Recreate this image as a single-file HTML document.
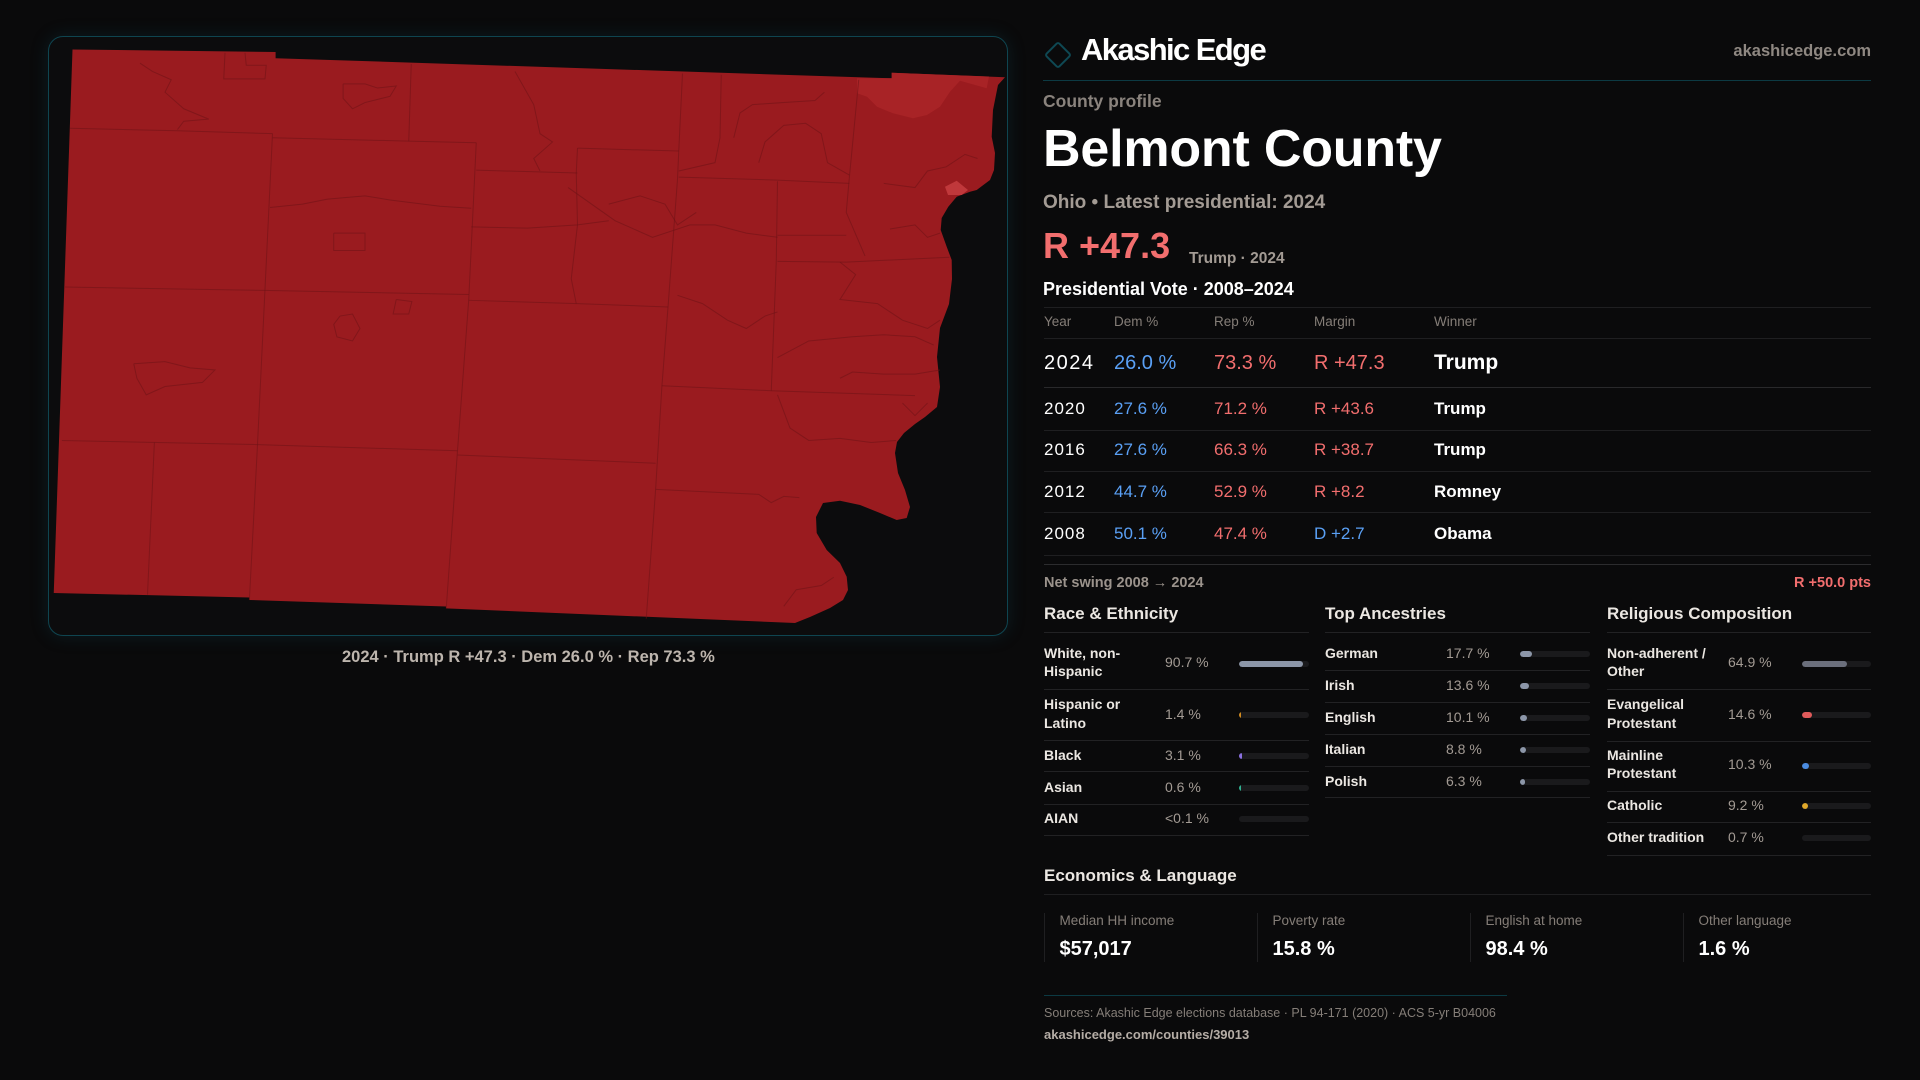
<!DOCTYPE html>
<html><head><meta charset="utf-8">
<style>
*{margin:0;padding:0;box-sizing:border-box}
html,body{width:1920px;height:1080px;background:#0a0a0b;overflow:hidden}
body{position:relative;font-family:"Liberation Sans",Arial,sans-serif;color:#fff}
.t{position:absolute;white-space:nowrap;line-height:1}
.b{font-weight:700}
.hl{position:absolute;height:1px;background:#1f1f21}
.lab{position:absolute;white-space:nowrap;font-size:14px;line-height:18.3px;font-weight:700;color:#ebe7e2}
.val{position:absolute;white-space:nowrap;font-size:14px;line-height:18.3px;color:#a39b94}
.trk{position:absolute;height:6px;width:70px;border-radius:3px;background:#1a1a1c;overflow:hidden}
.trk i{position:absolute;left:0;top:0;bottom:0;border-radius:3px;display:block}
.sep{position:absolute;height:1px;background:#222224}
.blue{color:#5aa0f5}.red{color:#f26e6e}
.card{position:absolute;top:913px;height:49px;border-left:1px solid #1f1f21}
</style></head><body>

<!-- map panel -->
<div style="position:absolute;left:48px;top:36px;width:960px;height:600px;border:1px solid #0f4550;border-radius:15px;background:#0c0c0d;box-shadow:0 0 18px rgba(20,90,110,0.22)"></div>
<svg style="position:absolute;left:0;top:0" width="1920" height="1080" viewBox="0 0 1920 1080">
<path fill="#9a1b1f" d="M72.5,49.5 L275.6,52 L275.6,58.2 L891.7,78.3 L891.7,72.7 L1005,77.3 L998,85 L993,110 L991.7,136.7 L995,153 L994,170 L990,180 L976.7,190 L970,191.7 L956.7,196.7 L948.3,206.7 L941.7,218 L940.7,230 L946.7,246.7 L951.7,260 L952,279 L949,304 L940,328 L937,357 L940,387 L937,407 L925,417 L915,424 L904,433 L897,442 L895,453 L898,473 L905,490 L910,507 L906.7,518 L896.7,520 L880,513 L860,505 L840,500.7 L823,503 L816,517 L816.7,533 L826.7,550 L840,563 L846.7,576.7 L848,590 L843,600 L830,608 L810,617 L795,623 L446,608.4 L446,606.5 L249.4,600 L249.4,597.5 L53.75,593 Z"/>
<path fill="#a82326" d="M857,78.3 L891.7,78.3 L891.7,72.7 L989,76.5 L986.7,88.3 L960,80.7 L950,91.7 L940,106.7 L927,115 L913,118.3 L893,113.3 L877,106.7 L867,96.7 L857,93.3 Z"/>
<path fill="#c0383b" d="M945,186.7 L956.7,180.7 L968,190 L961.7,195 L948,195 Z"/>
<g transform="translate(40,30) scale(0.625,0.41459)" fill="none" stroke="#6e1215" stroke-opacity="0.55" stroke-width="1">
<polyline vector-effect="non-scaling-stroke" points="372,250 360,625 348,1000 335,1375"/>
<polyline vector-effect="non-scaling-stroke" points="698,272 686,650 668,1015 650,1395"/>
<polyline vector-effect="non-scaling-stroke" points="1028,105 1022,292 1020,360 1005,665 995,860 985,1108 970,1420"/>
<polyline vector-effect="non-scaling-stroke" points="183,995 172,1362"/>
<polyline vector-effect="non-scaling-stroke" points="594,82 590,268"/>
<polyline vector-effect="non-scaling-stroke" points="1090,108 1088,260 1080,320 1022,340"/>
<polyline vector-effect="non-scaling-stroke" points="1180,365 1178,560 1170,870"/>
<polyline vector-effect="non-scaling-stroke" points="1310,120 1295,355 1290,440 1310,510 1320,545"/>
<polyline vector-effect="non-scaling-stroke" points="860,285 858,345 860,470 850,600 858,660"/>
<polyline vector-effect="non-scaling-stroke" points="296,55 294,118 360,118 362,85 330,85 328,55"/>
<polyline vector-effect="non-scaling-stroke" points="48,237 220,243 372,250"/>
<polyline vector-effect="non-scaling-stroke" points="372,260 590,268 698,272"/>
<polyline vector-effect="non-scaling-stroke" points="698,338 860,345"/>
<polyline vector-effect="non-scaling-stroke" points="860,285 1022,292"/>
<polyline vector-effect="non-scaling-stroke" points="1022,355 1180,362 1295,370"/>
<polyline vector-effect="non-scaling-stroke" points="40,620 358,628 686,638"/>
<polyline vector-effect="non-scaling-stroke" points="686,652 860,660 1005,668"/>
<polyline vector-effect="non-scaling-stroke" points="35,990 348,1000 668,1015"/>
<polyline vector-effect="non-scaling-stroke" points="668,1025 985,1045"/>
<polyline vector-effect="non-scaling-stroke" points="985,1108 1150,1120 1170,1140 1190,1125 1215,1128"/>
<polyline vector-effect="non-scaling-stroke" points="995,858 1170,870 1400,882"/>
<polyline vector-effect="non-scaling-stroke" points="690,475 780,478 860,470 910,460"/>
<polyline vector-effect="non-scaling-stroke" points="1180,495 1290,495"/>
<polyline vector-effect="non-scaling-stroke" points="1180,558 1290,560 1455,548"/>
<polyline vector-effect="non-scaling-stroke" points="368,428 420,420 460,408 520,400 560,410 640,425 690,430"/>
<polyline vector-effect="non-scaling-stroke" points="1020,640 1060,660 1100,700 1130,720 1160,690 1180,680"/>
<polyline vector-effect="non-scaling-stroke" points="1280,560 1305,590 1280,650 1340,660 1380,700 1420,720 1440,700"/>
<polyline vector-effect="non-scaling-stroke" points="1180,790 1230,750 1300,740 1350,735 1400,740 1430,760"/>
<polyline vector-effect="non-scaling-stroke" points="1280,840 1300,825 1350,830 1400,830 1440,820"/>
<polyline vector-effect="non-scaling-stroke" points="1180,880 1200,960 1230,990 1280,985 1330,995 1370,990"/>
<polyline vector-effect="non-scaling-stroke" points="845,380 920,460 980,500 1040,470 1080,470 1130,490 1180,500"/>
<polyline vector-effect="non-scaling-stroke" points="1150,320 1160,270 1190,230 1225,225 1250,250 1260,320 1295,350"/>
<polyline vector-effect="non-scaling-stroke" points="1110,260 1120,200 1140,180 1190,175 1240,170 1255,150"/>
<polyline vector-effect="non-scaling-stroke" points="1350,370 1400,380 1420,340 1450,330 1480,300 1500,310"/>
<polyline vector-effect="non-scaling-stroke" points="1360,480 1400,470 1420,500 1440,490"/>
<polyline vector-effect="non-scaling-stroke" points="1380,900 1400,930 1420,900"/>
<polyline vector-effect="non-scaling-stroke" points="1190,1390 1210,1350 1250,1340 1270,1320"/>
<polyline vector-effect="non-scaling-stroke" points="470,490 520,490 520,532 470,532 470,490"/>
<polyline vector-effect="non-scaling-stroke" points="480,690 500,685 512,720 500,750 475,740 470,710 480,690"/>
<polyline vector-effect="non-scaling-stroke" points="570,650 595,655 590,685 565,685 570,650"/>
<polyline vector-effect="non-scaling-stroke" points="150,805 200,800 240,815 280,820 260,850 200,860 170,880 155,840 150,805"/>
<polyline vector-effect="non-scaling-stroke" points="160,80 180,100 210,120 200,150 230,190 270,215 230,220 220,240"/>
<polyline vector-effect="non-scaling-stroke" points="485,130 520,130 540,140 570,135 560,160 520,175 500,190 485,165 485,130"/>
<polyline vector-effect="non-scaling-stroke" points="760,100 790,180 800,250 820,270 790,310 800,340"/>
<polyline vector-effect="non-scaling-stroke" points="910,420 960,400 1000,420 1020,470 1050,440"/>
</g>
</svg>
<div class="t b" style="left:342px;top:649px;font-size:16.5px;color:#bdb5ad">2024 · Trump R +47.3 · Dem 26.0 % · Rep 73.3 %</div>

<!-- header -->
<div style="position:absolute;left:1048px;top:45px;width:20px;height:20px;border:2px solid #0e4853;border-radius:3px;transform:rotate(45deg)"></div>
<div class="t b" style="left:1081px;top:34.4px;font-size:31px;letter-spacing:-1.6px;color:#fff">Akashic Edge</div>
<div class="t b" style="right:49px;top:42.7px;font-size:16.5px;color:#8f8882">akashicedge.com</div>
<div class="hl" style="left:1043px;top:80px;width:828px;background:#0c3a43"></div>

<div class="t b" style="left:1043px;top:93px;font-size:17.5px;color:#8a837d">County profile</div>
<div class="t b" style="left:1043px;top:123.3px;font-size:52px;letter-spacing:-0.2px;color:#fff">Belmont County</div>
<div class="t b" style="left:1043px;top:193px;font-size:19px;color:#a39b94">Ohio • Latest presidential: 2024</div>
<div class="t b red" style="left:1043px;top:228.4px;font-size:36px">R +47.3</div>
<div class="t b" style="left:1189px;top:250.5px;font-size:15.5px;color:#a39b94">Trump · 2024</div>
<div class="t b" style="left:1043px;top:279.5px;font-size:18px;color:#fff">Presidential Vote · 2008–2024</div>

<!-- table -->
<div class="hl" style="left:1044px;top:307px;width:827px"></div>
<div class="t" style="left:1044px;top:315.2px;font-size:13.5px;color:#857e78">Year</div>
<div class="t" style="left:1114px;top:315.2px;font-size:13.5px;color:#857e78">Dem %</div>
<div class="t" style="left:1214px;top:315.2px;font-size:13.5px;color:#857e78">Rep %</div>
<div class="t" style="left:1314px;top:315.2px;font-size:13.5px;color:#857e78">Margin</div>
<div class="t" style="left:1434px;top:315.2px;font-size:13.5px;color:#857e78">Winner</div>
<div class="hl" style="left:1044px;top:338px;width:827px"></div>

<div class="t" style="left:1044px;top:352.5px;font-size:20px;letter-spacing:1.5px;color:#fff">2024</div>
<div class="t blue" style="left:1114px;top:352.5px;font-size:20px">26.0 %</div>
<div class="t red" style="left:1214px;top:352.5px;font-size:20px">73.3 %</div>
<div class="t red" style="left:1314px;top:352.5px;font-size:20px">R +47.3</div>
<div class="t b" style="left:1434px;top:351.5px;font-size:21px;color:#fff">Trump</div>
<div class="hl" style="left:1044px;top:387px;width:827px;background:#29292b"></div>

<div class="t" style="left:1044px;top:399.9px;font-size:17px;letter-spacing:1px;color:#fff">2020</div>
<div class="t blue" style="left:1114px;top:399.9px;font-size:17px">27.6 %</div>
<div class="t red" style="left:1214px;top:399.9px;font-size:17px">71.2 %</div>
<div class="t red" style="left:1314px;top:399.9px;font-size:17px">R +43.6</div>
<div class="t b" style="left:1434px;top:399.9px;font-size:17px;color:#fff">Trump</div>
<div class="hl" style="left:1044px;top:430px;width:827px"></div>

<div class="t" style="left:1044px;top:441.3px;font-size:17px;letter-spacing:1px;color:#fff">2016</div>
<div class="t blue" style="left:1114px;top:441.3px;font-size:17px">27.6 %</div>
<div class="t red" style="left:1214px;top:441.3px;font-size:17px">66.3 %</div>
<div class="t red" style="left:1314px;top:441.3px;font-size:17px">R +38.7</div>
<div class="t b" style="left:1434px;top:441.3px;font-size:17px;color:#fff">Trump</div>
<div class="hl" style="left:1044px;top:471px;width:827px"></div>

<div class="t" style="left:1044px;top:482.9px;font-size:17px;letter-spacing:1px;color:#fff">2012</div>
<div class="t blue" style="left:1114px;top:482.9px;font-size:17px">44.7 %</div>
<div class="t red" style="left:1214px;top:482.9px;font-size:17px">52.9 %</div>
<div class="t red" style="left:1314px;top:482.9px;font-size:17px">R +8.2</div>
<div class="t b" style="left:1434px;top:482.9px;font-size:17px;color:#fff">Romney</div>
<div class="hl" style="left:1044px;top:512px;width:827px"></div>

<div class="t" style="left:1044px;top:524.6px;font-size:17px;letter-spacing:1px;color:#fff">2008</div>
<div class="t blue" style="left:1114px;top:524.6px;font-size:17px">50.1 %</div>
<div class="t red" style="left:1214px;top:524.6px;font-size:17px">47.4 %</div>
<div class="t blue" style="left:1314px;top:524.6px;font-size:17px">D +2.7</div>
<div class="t b" style="left:1434px;top:524.6px;font-size:17px;color:#fff">Obama</div>
<div class="hl" style="left:1044px;top:555px;width:827px"></div>
<div class="hl" style="left:1044px;top:564px;width:827px;background:#2c2c2e"></div>

<div class="t b" style="left:1044px;top:576.4px;font-size:14.5px;color:#9b938c">Net swing 2008 → 2024</div>
<div class="t b red" style="right:49px;top:576.4px;font-size:14.5px">R +50.0 pts</div>

<!-- section titles -->
<div class="t b" style="left:1044px;top:604.9px;font-size:17px;color:#ebe7e2">Race &amp; Ethnicity</div>
<div class="t b" style="left:1325px;top:604.9px;font-size:17px;color:#ebe7e2">Top Ancestries</div>
<div class="t b" style="left:1607px;top:604.9px;font-size:17px;color:#ebe7e2">Religious Composition</div>
<div class="sep" style="left:1044px;top:632px;width:265px"></div>
<div class="sep" style="left:1325px;top:632px;width:265px"></div>
<div class="sep" style="left:1607px;top:632px;width:264px"></div>

<!-- race -->
<div class="lab" style="left:1044px;top:643.7px">White, non-<br>Hispanic</div>
<div class="val" style="left:1165px;top:652.5px">90.7 %</div>
<div class="trk" style="left:1239px;top:660.7px"><i style="width:63.5px;background:#8c96a8"></i></div>
<div class="sep" style="left:1044px;top:689px;width:265px"></div>

<div class="lab" style="left:1044px;top:695.3px">Hispanic or<br>Latino</div>
<div class="val" style="left:1165px;top:704.8px">1.4 %</div>
<div class="trk" style="left:1239px;top:712px"><i style="width:1.5px;background:#d08a20;border-radius:0"></i></div>
<div class="sep" style="left:1044px;top:740px;width:265px"></div>

<div class="lab" style="left:1044px;top:746px">Black</div>
<div class="val" style="left:1165px;top:746px">3.1 %</div>
<div class="trk" style="left:1239px;top:753px"><i style="width:3px;background:#8a70e0;border-radius:1px"></i></div>
<div class="sep" style="left:1044px;top:771px;width:265px"></div>

<div class="lab" style="left:1044px;top:778.3px">Asian</div>
<div class="val" style="left:1165px;top:778.3px">0.6 %</div>
<div class="trk" style="left:1239px;top:784.7px"><i style="width:1.5px;background:#30b090;border-radius:0"></i></div>
<div class="sep" style="left:1044px;top:804px;width:265px"></div>

<div class="lab" style="left:1044px;top:809.3px">AIAN</div>
<div class="val" style="left:1165px;top:809.3px">&lt;0.1 %</div>
<div class="trk" style="left:1239px;top:816px"></div>
<div class="sep" style="left:1044px;top:835px;width:265px"></div>

<!-- ancestries -->
<div class="lab" style="left:1325px;top:643.7px">German</div>
<div class="val" style="left:1446px;top:643.7px">17.7 %</div>
<div class="trk" style="left:1520px;top:650.7px"><i style="width:12px;background:#8c96a8"></i></div>
<div class="sep" style="left:1325px;top:670px;width:265px"></div>

<div class="lab" style="left:1325px;top:676px">Irish</div>
<div class="val" style="left:1446px;top:676px">13.6 %</div>
<div class="trk" style="left:1520px;top:683px"><i style="width:9px;background:#8c96a8"></i></div>
<div class="sep" style="left:1325px;top:702px;width:265px"></div>

<div class="lab" style="left:1325px;top:708.3px">English</div>
<div class="val" style="left:1446px;top:708.3px">10.1 %</div>
<div class="trk" style="left:1520px;top:715px"><i style="width:7px;background:#8c96a8"></i></div>
<div class="sep" style="left:1325px;top:734px;width:265px"></div>

<div class="lab" style="left:1325px;top:740.3px">Italian</div>
<div class="val" style="left:1446px;top:740.3px">8.8 %</div>
<div class="trk" style="left:1520px;top:747px"><i style="width:6px;background:#8c96a8"></i></div>
<div class="sep" style="left:1325px;top:766px;width:265px"></div>

<div class="lab" style="left:1325px;top:772px">Polish</div>
<div class="val" style="left:1446px;top:772px">6.3 %</div>
<div class="trk" style="left:1520px;top:779px"><i style="width:4.5px;background:#8c96a8"></i></div>
<div class="sep" style="left:1325px;top:797px;width:265px"></div>

<!-- religion -->
<div class="lab" style="left:1607px;top:643.7px">Non-adherent /<br>Other</div>
<div class="val" style="left:1728px;top:652.5px">64.9 %</div>
<div class="trk" style="left:1802px;top:660.7px;width:69px"><i style="width:45px;background:#6b6f7c"></i></div>
<div class="sep" style="left:1607px;top:689px;width:264px"></div>

<div class="lab" style="left:1607px;top:695.3px">Evangelical<br>Protestant</div>
<div class="val" style="left:1728px;top:704.8px">14.6 %</div>
<div class="trk" style="left:1802px;top:712px;width:69px"><i style="width:10px;background:#e05a5a"></i></div>
<div class="sep" style="left:1607px;top:740.5px;width:264px"></div>

<div class="lab" style="left:1607px;top:746px">Mainline<br>Protestant</div>
<div class="val" style="left:1728px;top:754.8px">10.3 %</div>
<div class="trk" style="left:1802px;top:762.7px;width:69px"><i style="width:7px;background:#4a8be0"></i></div>
<div class="sep" style="left:1607px;top:790.5px;width:264px"></div>

<div class="lab" style="left:1607px;top:796px">Catholic</div>
<div class="val" style="left:1728px;top:796px">9.2 %</div>
<div class="trk" style="left:1802px;top:802.7px;width:69px"><i style="width:6px;background:#e0a82a"></i></div>
<div class="sep" style="left:1607px;top:822px;width:264px"></div>

<div class="lab" style="left:1607px;top:827.7px">Other tradition</div>
<div class="val" style="left:1728px;top:827.7px">0.7 %</div>
<div class="trk" style="left:1802px;top:834.7px;width:69px"></div>
<div class="sep" style="left:1607px;top:854.5px;width:264px"></div>

<!-- economics -->
<div class="t b" style="left:1044px;top:866.8px;font-size:17px;color:#ebe7e2">Economics &amp; Language</div>
<div class="hl" style="left:1044px;top:894px;width:827px"></div>

<div class="card" style="left:1044px;width:213px"></div>
<div class="card" style="left:1257px;width:213px"></div>
<div class="card" style="left:1470px;width:213px"></div>
<div class="card" style="left:1683px;width:188px"></div>
<div class="t" style="left:1059.5px;top:914px;font-size:13.5px;color:#857e78">Median HH income</div>
<div class="t" style="left:1272.5px;top:914px;font-size:13.5px;color:#857e78">Poverty rate</div>
<div class="t" style="left:1485.5px;top:914px;font-size:13.5px;color:#857e78">English at home</div>
<div class="t" style="left:1698.5px;top:914px;font-size:13.5px;color:#857e78">Other language</div>
<div class="t b" style="left:1059.5px;top:938.5px;font-size:20px;color:#fff">$57,017</div>
<div class="t b" style="left:1272.5px;top:938.5px;font-size:20px;color:#fff">15.8 %</div>
<div class="t b" style="left:1485.5px;top:938.5px;font-size:20px;color:#fff">98.4 %</div>
<div class="t b" style="left:1698.5px;top:938.5px;font-size:20px;color:#fff">1.6 %</div>

<div class="hl" style="left:1044px;top:995px;width:463px;background:#0c3a43"></div>
<div class="t" style="left:1044px;top:1007px;font-size:12.5px;color:#857e78">Sources: Akashic Edge elections database · PL 94-171 (2020) · ACS 5-yr B04006</div>
<div class="t b" style="left:1044px;top:1027.5px;font-size:13px;color:#b5ada6">akashicedge.com/counties/39013</div>

</body></html>
